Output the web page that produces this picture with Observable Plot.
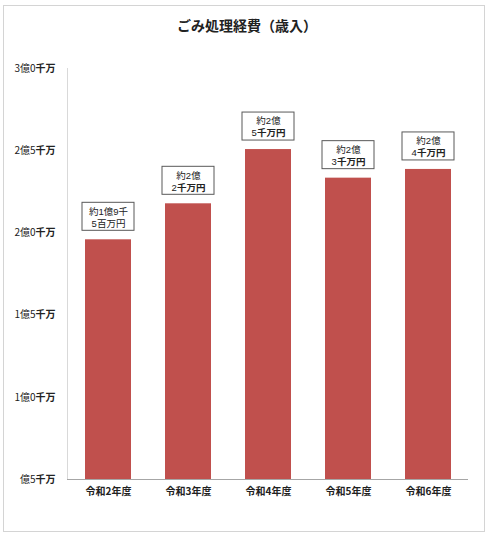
<!DOCTYPE html>
<html>
<head>
<meta charset="utf-8">
<script src="https://cdn.jsdelivr.net/npm/d3@7"></script>
<script src="https://cdn.jsdelivr.net/npm/@observablehq/plot@0.6"></script>
<style>
  html, body { margin: 0; padding: 0; background: #fff; }
  body { width: 499px; height: 541px; position: relative; font-family: 'Noto Sans CJK JP', sans-serif; }
  #wrap { position: absolute; left: 3px; top: 5px; width: 480px; border: 1px solid #d4d4d4; background: #fff; }
  #title { height: 34px; line-height: 38px; text-align: center; padding-left: 6px; box-sizing: border-box;
           font-size: 14px; font-weight: bold; color: #222; }
  #chart svg { display: block; }
</style>
</head>
<body>
<div id="wrap">
  <div id="title">ごみ処理経費（歳入）</div>
  <div id="chart"></div>
</div>
<script>
const years = ["令和2年度", "令和3年度", "令和4年度", "令和5年度", "令和6年度"];
const values = [1.958, 2.177, 2.507, 2.333, 2.386]; // 億円
const labels = ["約1億9千\n5百万円", "約2億\n2千万円", "約2億\n5千万円", "約2億\n3千万円", "約2億\n4千万円"];
const yTicks = [0.5, 1.0, 1.5, 2.0, 2.5, 3.0];
const yTickLabels = ["億5千万", "1億0千万", "1億5千万", "2億0千万", "2億5千万", "3億0千万"];

const data = years.map((year, i) => ({ year, value: values[i], label: labels[i] }));

const chart = Plot.plot({
  width: 480,
  height: 491,
  marginTop: 28,
  marginBottom: 52,
  marginLeft: 63,
  marginRight: 16,
  style: { fontFamily: "'Noto Sans CJK JP', sans-serif", fontSize: "10px", background: "#fff", color: "#222" },
  x: { domain: years, paddingInner: 0.425, paddingOuter: 0.2125, label: null },
  y: { domain: [yTicks[0], yTicks[yTicks.length - 1]], label: null },
  marks: [
    Plot.frame({ anchor: "left", stroke: "#d9d9d9" }),
    Plot.barY(data, { x: "year", y1: yTicks[0], y2: "value", fill: "#c0504d" }),
    Plot.ruleY([yTicks[0]], { stroke: "#a6a6a6" }),
    Plot.barY(data, { x: "year", y1: "value", y2: "value", insetTop: -37, insetBottom: 9, insetLeft: -3, insetRight: -3,
                      fill: "#fff", stroke: "#595959", strokeWidth: 1 }),
    Plot.text(data, { x: "year", y: "value", text: "label", dy: -23, lineHeight: 1.25, fontSize: 9.5, fill: "#222",
                      fontFamily: "'Liberation Sans', 'Noto Sans CJK JP', sans-serif", className: "lbl" }),
    Plot.axisY({ ticks: yTicks, tickFormat: d => yTickLabels[yTicks.indexOf(d)], tickSize: 0, tickPadding: 12,
                 fontSize: 10, className: "yax", label: null }),
    Plot.axisX({ tickSize: 0, tickPadding: 8, fontSize: 10, fontWeight: "bold", label: null })
  ]
});
document.getElementById("chart").appendChild(chart);

// bold "千万" portions as in the reference
const NS = "http://www.w3.org/2000/svg";
function boldify(el) {
  const s = el.textContent;
  if (!/千万/.test(s)) return;
  const parts = s.split(/(千万円?)/);
  el.textContent = "";
  parts.forEach(p => {
    if (!p) return;
    const t = document.createElementNS(NS, "tspan");
    t.textContent = p;
    if (/千万/.test(p)) t.setAttribute("font-weight", "bold");
    el.appendChild(t);
  });
}
d3.select(chart).selectAll(".yax text").each(function () { boldify(this); });
d3.select(chart).selectAll(".lbl text").each(function () {
  const tspans = this.querySelectorAll("tspan");
  if (tspans.length) tspans.forEach(boldify); else boldify(this);
});
</script>
</body>
</html>
